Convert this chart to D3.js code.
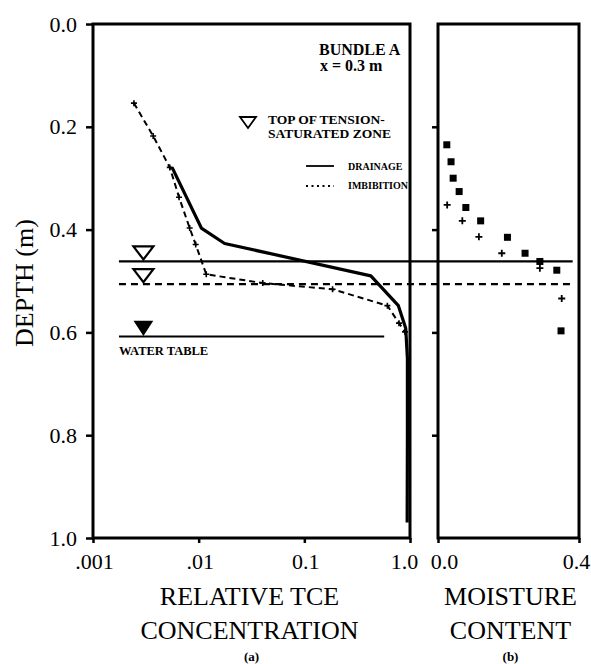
<!DOCTYPE html>
<html>
<head>
<meta charset="utf-8">
<script src="https://cdn.jsdelivr.net/npm/d3@7"></script>
<style>
  html, body { margin: 0; padding: 0; background: #fff; }
  svg { display: block; }
  svg text { font-family: 'Liberation Serif', 'DejaVu Serif', serif !important; fill: #000; }
</style>
</head>
<body>
<svg id="chart" width="591" height="664" font-family="'Liberation Serif', serif"></svg>
<script>
// ---------------- DATA ----------------
// Panel (a): relative TCE concentration vs depth
const drainageDepth = [0.279, 0.397, 0.427, 0.490, 0.548, 0.592, 0.65, 0.80, 0.97];
const drainageConc  = [0.0056, 0.0106, 0.0176, 0.426, 0.776, 0.911, 0.945, 0.945, 0.94];

const imbibitionDepth = [0.154, 0.218, 0.279, 0.337, 0.397, 0.429, 0.487, 0.504, 0.516, 0.548, 0.582, 0.599];
const imbibitionConc  = [0.00244, 0.00371, 0.00533, 0.00652, 0.00822, 0.00937, 0.0118, 0.0404, 0.185, 0.611, 0.787, 0.897];

// Panel (b): moisture content vs depth
const drainMoistDepth = [0.235, 0.268, 0.300, 0.326, 0.357, 0.383, 0.415, 0.446, 0.462, 0.479, 0.597];
const drainMoist      = [0.025, 0.037, 0.043, 0.060, 0.079, 0.121, 0.197, 0.247, 0.289, 0.337, 0.349];
const imbMoistDepth   = [0.352, 0.383, 0.414, 0.446, 0.475, 0.534];
const imbMoist        = [0.026, 0.069, 0.116, 0.181, 0.289, 0.351];

// Reference levels (depth, m)
const tensionTopDrainage = 0.462;
const tensionTopImbibition = 0.506;
const waterTable = 0.608;
const markerConc = 0.003;        // x position of the triangles
const levelLineStart = 0.00176;  // conc where level lines begin
const levelLineEndMoist = 0.382; // moisture where level lines end
const waterTableEnd = 0.57;

// Ticks
const depthTicks = [0, 0.2, 0.4, 0.6, 0.8, 1.0];
const depthTickLabels = ["0.0", "0.2", "0.4", "0.6", "0.8", "1.0"];
const concTicks = [0.001, 0.01, 0.1, 1.0];
const concTickLabels = [".001", ".01", "0.1", "1.0"];
const moistTicks = [0, 0.4];
const moistTickLabels = ["0.0", "0.4"];

// ---------------- LAYOUT ----------------
const FONT = "'Liberation Serif', serif";
const svg = d3.select("#chart");
const yTop = 24, yBot = 538;
const aLeft = 93, aRight = 410;
const bLeft = 438, bRight = 579;

const y = d3.scaleLinear().domain([0, 1]).range([yTop, yBot]);
const xa = d3.scaleLog().domain([0.001, 1]).range([aLeft, aRight]);
const xb = d3.scaleLinear().domain([0, 0.4]).range([bLeft, bRight]);

const AX = 3;

function styleAxis(g, labels) {
  g.attr("font-family", FONT).attr("font-size", null);
  g.select(".domain").remove();
  g.selectAll(".tick line").attr("stroke", "#000").attr("stroke-width", 2.5);
  if (labels) g.selectAll(".tick text").attr("font-family", FONT).style("font-size", "22px").attr("fill", "#000");
}

// ---------- Axes panel (a) ----------
const yAxisA = d3.axisLeft(y).tickValues(depthTicks)
  .tickFormat((d, i) => depthTickLabels[i]).tickSize(7).tickPadding(9).tickSizeOuter(0);
const gYA = svg.append("g").attr("transform", `translate(${aLeft},0)`).call(yAxisA);
styleAxis(gYA, true);

const xAxisA = d3.axisBottom(xa).tickValues(concTicks)
  .tickFormat((d, i) => concTickLabels[i]).tickSize(5).tickPadding(10).tickSizeOuter(0);
const gXA = svg.append("g").attr("transform", `translate(0,${yBot})`).call(xAxisA);
styleAxis(gXA, true);
gXA.selectAll(".tick text").attr("dx", (d, i) => i === 3 ? -6 : 1);

// ---------- Axes panel (b) ----------
const yAxisB = d3.axisLeft(y).tickValues([0.2, 0.4, 0.6, 0.8])
  .tickFormat("").tickSize(6).tickSizeOuter(0);
const gYB = svg.append("g").attr("transform", `translate(${bLeft},0)`).call(yAxisB);
styleAxis(gYB, false);

const xAxisB = d3.axisBottom(xb).tickValues(moistTicks)
  .tickFormat((d, i) => moistTickLabels[i]).tickSize(5).tickPadding(10).tickSizeOuter(0);
const gXB = svg.append("g").attr("transform", `translate(0,${yBot})`).call(xAxisB);
styleAxis(gXB, true);
gXB.selectAll(".tick text").attr("dx", (d, i) => i === 0 ? 6 : -3);

// Frames
svg.append("rect").attr("x", aLeft).attr("y", yTop).attr("width", aRight - aLeft).attr("height", yBot - yTop)
  .attr("fill", "none").attr("stroke", "#000").attr("stroke-width", AX);
svg.append("rect").attr("x", bLeft).attr("y", yTop).attr("width", bRight - bLeft).attr("height", yBot - yTop)
  .attr("fill", "none").attr("stroke", "#000").attr("stroke-width", AX);

// ---------- Level lines ----------
const levelX1 = xa(levelLineStart), levelX2 = xb(levelLineEndMoist);
svg.append("line").attr("x1", levelX1).attr("x2", levelX2)
  .attr("y1", y(tensionTopDrainage)).attr("y2", y(tensionTopDrainage))
  .attr("stroke", "#000").attr("stroke-width", 2.2);
svg.append("line").attr("x1", levelX1).attr("x2", levelX2)
  .attr("y1", y(tensionTopImbibition)).attr("y2", y(tensionTopImbibition))
  .attr("stroke", "#000").attr("stroke-width", 2.2).attr("stroke-dasharray", "7,5");
svg.append("line").attr("x1", levelX1).attr("x2", xa(waterTableEnd))
  .attr("y1", y(waterTable)).attr("y2", y(waterTable))
  .attr("stroke", "#000").attr("stroke-width", 2.2);

// Triangles (apex on line)
function tri(cx, apexY, w, h) {
  return `M${cx - w / 2},${apexY - h}L${cx + w / 2},${apexY - h}L${cx},${apexY}Z`;
}
svg.append("path").attr("d", tri(xa(markerConc), y(tensionTopDrainage) - 2, 20, 13))
  .attr("fill", "#fff").attr("stroke", "#000").attr("stroke-width", 2.2);
svg.append("path").attr("d", tri(xa(markerConc), y(tensionTopImbibition) - 2, 20, 13))
  .attr("fill", "#fff").attr("stroke", "#000").attr("stroke-width", 2.2);
svg.append("path").attr("d", tri(xa(markerConc), y(waterTable) - 2, 17, 13))
  .attr("fill", "#000").attr("stroke", "#000").attr("stroke-width", 1.5);

svg.append("text").attr("x", levelX1).attr("y", y(waterTable) + 18)
  .style("font-size", "12.5px").style("font-weight", "bold").text("WATER TABLE");

// ---------- Curves panel (a) ----------
const drainData = drainageDepth.map((d, i) => ({ d, c: drainageConc[i] }));
const imbData = imbibitionDepth.map((d, i) => ({ d, c: imbibitionConc[i] }));
const lineA = d3.line().x(p => xa(p.c)).y(p => y(p.d));

svg.append("path").datum(drainData).attr("d", lineA)
  .attr("fill", "none").attr("stroke", "#000").attr("stroke-width", 3.2).attr("stroke-linejoin", "round");
svg.append("path").datum(imbData).attr("d", lineA)
  .attr("fill", "none").attr("stroke", "#000").attr("stroke-width", 2).attr("stroke-dasharray", "6,4");

function plus(g, cx, cy, s, w) {
  g.append("path").attr("d", `M${cx - s},${cy}H${cx + s}M${cx},${cy - s}V${cy + s}`)
    .attr("stroke", "#000").attr("stroke-width", w).attr("fill", "none");
}
const gPlusA = svg.append("g");
imbData.forEach(p => plus(gPlusA, xa(p.c), y(p.d), 3, 1.6));

// ---------- Points panel (b) ----------
const sq = 7;
svg.append("g").selectAll("rect").data(drainMoist.map((m, i) => ({ m, d: drainMoistDepth[i] })))
  .join("rect")
  .attr("x", p => xb(p.m) - sq / 2).attr("y", p => y(p.d) - sq / 2)
  .attr("width", sq).attr("height", sq).attr("fill", "#000");
const gPlusB = svg.append("g");
imbMoist.forEach((m, i) => plus(gPlusB, xb(m), y(imbMoistDepth[i]), 3.5, 1.8));

// ---------- Legend / annotations ----------
svg.append("text").attr("x", 319).attr("y", 55).style("font-size", "16px").style("font-weight", "bold").text("BUNDLE A");
svg.append("text").attr("x", 320).attr("y", 71).style("font-size", "16px").style("font-weight", "bold").text("x = 0.3 m");

svg.append("path").attr("d", tri(248, 128, 16, 11))
  .attr("fill", "#fff").attr("stroke", "#000").attr("stroke-width", 1.8);
svg.append("text").attr("x", 268).attr("y", 124).style("font-size", "13.5px").style("font-weight", "bold")
  .text("TOP OF TENSION-");
svg.append("text").attr("x", 268).attr("y", 138).style("font-size", "13.5px").style("font-weight", "bold")
  .text("SATURATED ZONE");

svg.append("line").attr("x1", 306).attr("x2", 334).attr("y1", 166).attr("y2", 166)
  .attr("stroke", "#000").attr("stroke-width", 1.8);
svg.append("text").attr("x", 348).attr("y", 170).style("font-size", "10px").style("font-weight", "bold")
  .text("DRAINAGE");
svg.append("line").attr("x1", 306).attr("x2", 334).attr("y1", 186).attr("y2", 186)
  .attr("stroke", "#000").attr("stroke-width", 1.8).attr("stroke-dasharray", "2,3.5");
svg.append("text").attr("x", 348).attr("y", 189).style("font-size", "10px").style("font-weight", "bold")
  .text("IMBIBITION");

// ---------- Axis titles ----------
svg.append("text").attr("transform", `translate(33,283) rotate(-90)`)
  .attr("text-anchor", "middle").style("font-size", "26px").text("DEPTH (m)");

const aMid = (aLeft + aRight) / 2, bMid = (bLeft + bRight) / 2 + 2;
[["RELATIVE TCE", 605], ["CONCENTRATION", 639]].forEach(([t, yy]) =>
  svg.append("text").attr("x", aMid - 2).attr("y", yy).attr("text-anchor", "middle").style("font-size", "26px").text(t));
svg.append("text").attr("x", aMid).attr("y", 661).attr("text-anchor", "middle")
  .style("font-size", "13px").style("font-weight", "bold").text("(a)");
[["MOISTURE", 605], ["CONTENT", 639]].forEach(([t, yy]) =>
  svg.append("text").attr("x", bMid).attr("y", yy).attr("text-anchor", "middle").style("font-size", "26px").text(t));
svg.append("text").attr("x", bMid).attr("y", 661).attr("text-anchor", "middle")
  .style("font-size", "13px").style("font-weight", "bold").text("(b)");
</script>
</body>
</html>
